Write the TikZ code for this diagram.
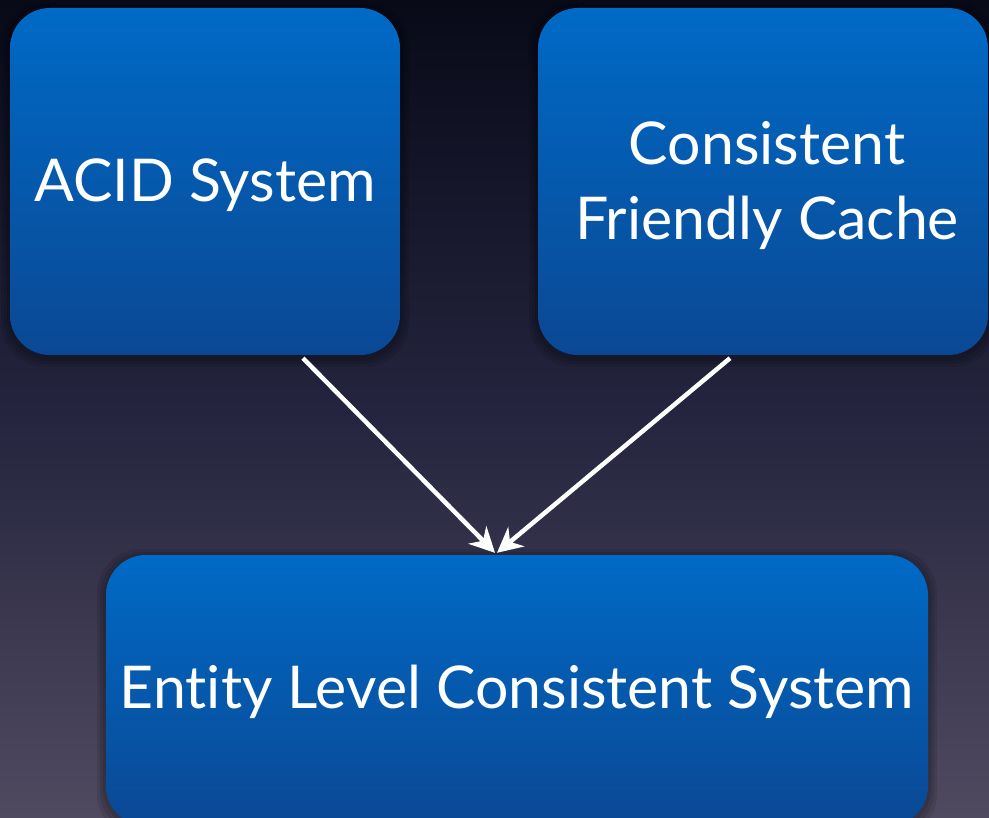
\documentclass[tikz,border=0pt]{standalone}
\usepackage{fontspec}
\setmainfont[Ligatures=NoCommon]{Lato}
\usetikzlibrary{arrows.meta}

\definecolor{bgtop}{RGB}{8,10,24}
\definecolor{bgmid}{RGB}{36,36,62}
\definecolor{bgbot}{RGB}{80,74,96}
\definecolor{boxtop}{RGB}{0,106,198}
\definecolor{boxbot}{RGB}{10,72,148}

\tikzset{
  panel/.style={rectangle, rounded corners=40pt, top color=boxtop, bottom color=boxbot,
    draw=none, text=white, align=center, font=\fontsize{59}{75}\selectfont, inner sep=0pt},
  halo/.style={fill=black, opacity=0.10, rounded corners=44pt},
  flow/.style={draw=white, line width=4.5pt, -{Stealth[length=25pt,width=25pt,inset=8pt]}}
}

\begin{document}
\begin{tikzpicture}[x=1pt,y=-1pt]
  % backdrop
  \shade[top color=bgtop, bottom color=bgbot, middle color=bgmid] (0,0) rectangle (989,818);
  \useasboundingbox (0,0) rectangle (989,818);

  % soft shadows under the panels
  \foreach \d in {3,6,9}{
    \fill[halo] (10-\d,8-\d+3) rectangle (400+\d,355+\d+3);
    \fill[halo] (538-\d,8-\d+3) rectangle (988+\d,355+\d+3);
    \fill[halo] (106-\d,555-\d+3) rectangle (928+\d,826+\d+3);
  }

  % the three panels, text set slightly low as in a slide layout
  \node[panel, minimum width=390pt, minimum height=347pt, text depth=0pt] (acid) at (205,181.5) {};
  \node[text=white, font=\fontsize{59}{75}\selectfont, inner sep=0pt] (acidtxt) at (205,185) {ACID System};
  \node[panel, minimum width=450pt, minimum height=347pt] (cache) at (763,181.5) {};
  \node[text=white, align=center, font=\fontsize{59}{75}\selectfont, inner sep=0pt] (cachetxt) at (767,186)
    {Consistent\\Friendly Cache};
  \node[panel, minimum width=822pt, minimum height=271pt] (entity) at (517,690.5) {};
  \node[text=white, font=\fontsize{59}{75}\selectfont, inner sep=0pt] (entitytxt) at (517,692)
    {Entity Level Consistent System};

  \draw[flow] ([xshift=98pt,yshift=-3pt]acid.south) -- ([xshift=-22pt,yshift=2pt]entity.north);
  \draw[flow] ([xshift=-33pt,yshift=-3pt]cache.south) -- ([xshift=-20pt,yshift=2pt]entity.north);
\end{tikzpicture}
\end{document}
